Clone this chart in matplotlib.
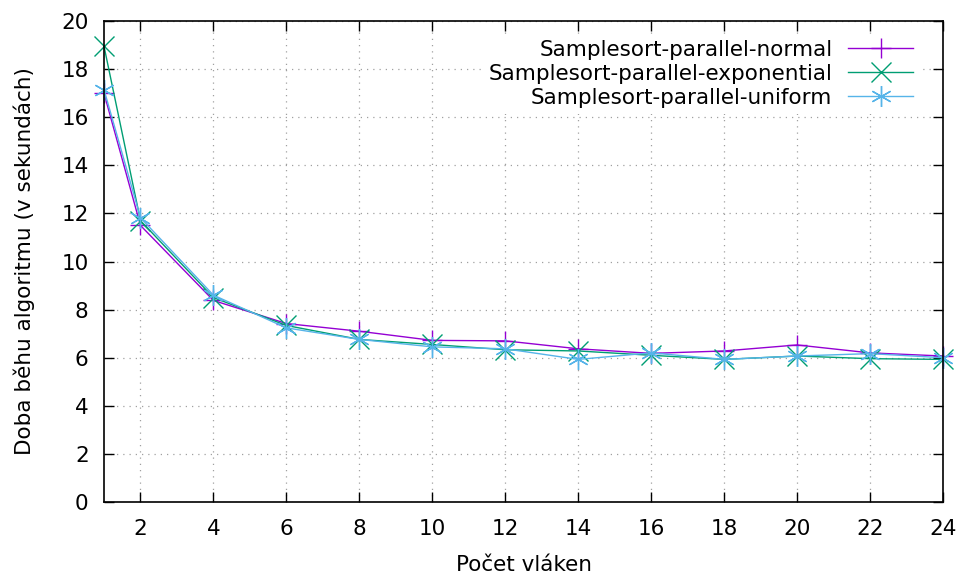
import matplotlib
matplotlib.use("Agg")
import matplotlib.pyplot as plt

# data
threads = [1, 2, 4, 6, 8, 10, 12, 14, 16, 18, 20, 22, 24]
normal = [17.0, 11.5, 8.38, 7.42, 7.1, 6.72, 6.7, 6.37, 6.18, 6.28, 6.53, 6.2, 6.07]
exponential = [18.95, 11.7, 8.5, 7.34, 6.76, 6.55, 6.33, 6.28, 6.1, 5.93, 6.07, 5.96, 5.93]
uniform = [17.15, 11.82, 8.6, 7.24, 6.76, 6.45, 6.37, 5.93, 6.2, 5.93, 6.07, 6.17, 6.0]

labels = ["Samplesort-parallel-normal",
          "Samplesort-parallel-exponential",
          "Samplesort-parallel-uniform"]
colors = ["#9400d3", "#009e73", "#56b4e9"]
markers = ["+", "x", (6, 2, 0)]
FS = 15.5

plt.rcParams['font.family'] = ['DejaVu Sans']
fig = plt.figure(figsize=(9.62, 5.77), dpi=100)
ax = fig.add_axes([104 / 962, 1 - 502 / 577, (943 - 104) / 962, (502 - 21) / 577])

for ys, lab, col, mk in zip([normal, exponential, uniform], labels, colors, markers):
    ax.plot(threads, ys, color=col, lw=1.0, marker=mk, markersize=15,
            markeredgewidth=1.0, label=lab, clip_on=False, zorder=3)

ax.set_xlim(1, 24)
ax.set_ylim(0, 20)
ax.set_xticks(range(2, 25, 2))
ax.set_yticks(range(0, 21, 2))
ax.tick_params(direction='in', length=7, width=1, labelsize=FS,
               top=True, right=True)
ax.tick_params(axis='x', pad=12)
ax.tick_params(axis='y', pad=11)
for s in ax.spines.values():
    s.set_linewidth(1.2)
    s.set_zorder(4)
ax.grid(True, color='#a0a0a0', linestyle=(0, (1, 4)), linewidth=0.9)

ax.set_xlabel("Počet vláken", fontsize=FS, labelpad=12)
ax.set_ylabel("Doba běhu algoritmu (v sekundách)", fontsize=FS, labelpad=19)

leg = ax.legend(loc='upper right', bbox_to_anchor=(0.972, 0.974),
                markerfirst=False, fontsize=FS,
                frameon=True, framealpha=1, edgecolor='none', fancybox=False,
                handlelength=3.0, labelspacing=0.18, borderaxespad=0,
                handletextpad=0.75, borderpad=0.3)
leg.set_zorder(5)

fig.savefig("out.png", dpi=100)
